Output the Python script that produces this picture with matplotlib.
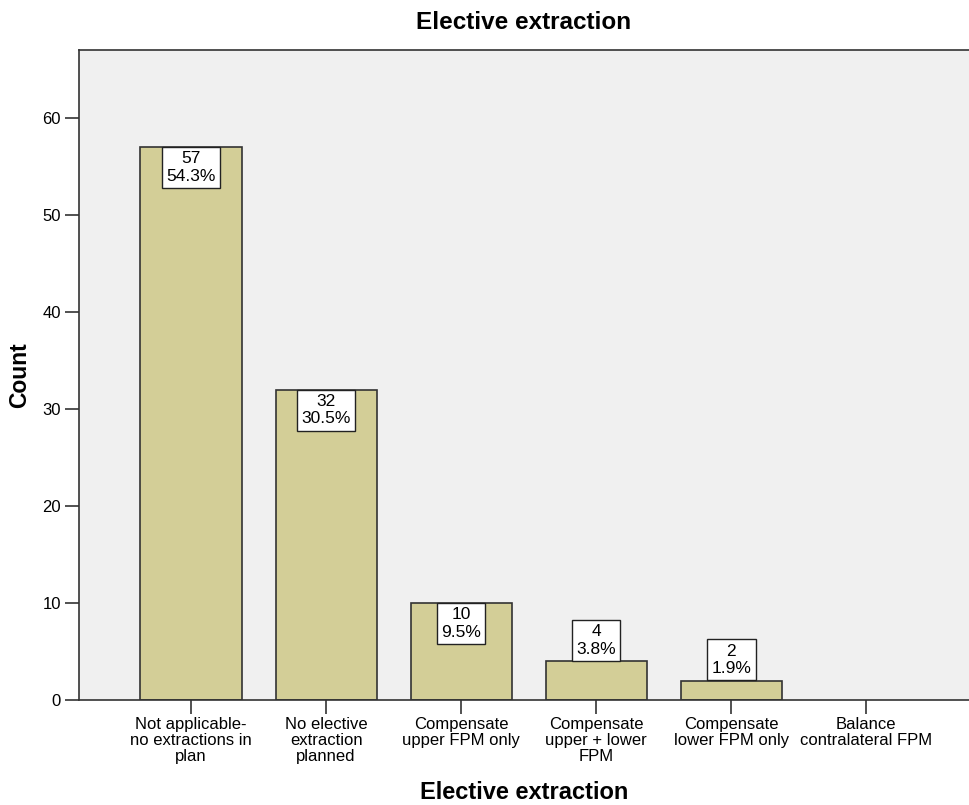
import matplotlib.pyplot as plt
import numpy as np

plt.rcParams['font.family'] = ['Liberation Sans', 'DejaVu Sans']

categories = ['Not applicable-\nno extractions in\nplan', 'No elective\nextraction\nplanned',
              'Compensate\nupper FPM only', 'Compensate\nupper + lower\nFPM',
              'Compensate\nlower FPM only', 'Balance\ncontralateral FPM']
counts = [57, 32, 10, 4, 2, 0]
percents = ['54.3%', '30.5%', '9.5%', '3.8%', '1.9%', '']

fig = plt.figure(figsize=(9.69, 8.05), dpi=100)
ax = fig.add_axes([79 / 969, 105 / 805, 890 / 969, 650 / 805])
ax.set_facecolor('#f0f0f0')

x = np.arange(len(categories))
shown = [i for i, c in enumerate(counts) if c > 0]
ax.bar(x[shown], [counts[i] for i in shown], width=0.75, color='#d3ce97',
       edgecolor='#333333', linewidth=1.2, zorder=2)

box = dict(boxstyle='square,pad=0.25', facecolor='white', edgecolor='#222222', linewidth=1)
for xi, c, p in zip(x, counts, percents):
    if c == 0:
        continue
    label = f'{c}\n{p}'
    if c >= 8:
        ax.annotate(label, xy=(xi, c), xytext=(0, -3.2), textcoords='offset points',
                    ha='center', va='top', fontsize=12.5, linespacing=1.2, bbox=box, zorder=3)
    else:
        ax.annotate(label, xy=(xi, c), xytext=(0, 3.2), textcoords='offset points',
                    ha='center', va='bottom', fontsize=12.5, linespacing=1.2, bbox=box, zorder=3)

ax.set_xlim(-0.83, 5.76)
ax.set_ylim(0, 67)
ax.set_yticks([0, 10, 20, 30, 40, 50, 60])
ax.set_xticks(x)
ax.set_xticklabels(categories, linespacing=1.1)
ax.tick_params(axis='both', direction='out', length=10, width=1.2, colors='#333333',
               labelcolor='black', labelsize=12)
ax.tick_params(axis='x', pad=2)
ax.tick_params(axis='y', pad=3)

ax.spines['right'].set_visible(False)
for side in ['left', 'bottom', 'top']:
    ax.spines[side].set_linewidth(1.2)
    ax.spines[side].set_color('#333333')

ax.set_ylabel('Count', fontsize=16.5, fontweight='bold', labelpad=8)
ax.set_xlabel('Elective extraction', fontsize=17, fontweight='bold', labelpad=12)
ax.set_title('Elective extraction', fontsize=17.5, fontweight='bold', pad=15)

plt.savefig('out.png', dpi=100)
